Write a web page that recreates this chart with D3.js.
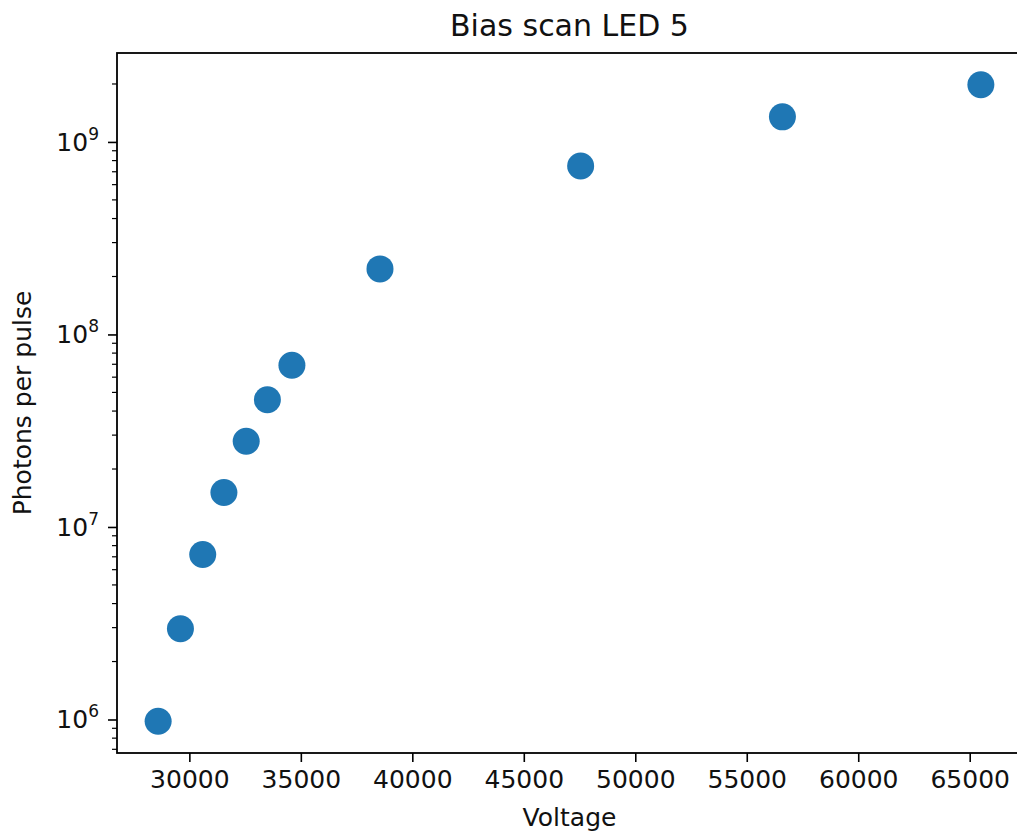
<!DOCTYPE html>
<html>
<head>
<meta charset="utf-8">
<script src="https://cdn.jsdelivr.net/npm/d3@7"></script>
<style>
  body { margin: 0; background: #fff; }
  svg { display: block; font-family: "DejaVu Sans", sans-serif; }
</style>
</head>
<body>
<div id="chart"></div>
<script>
// values
const voltage = [28600, 29600, 30600, 31550, 32550, 33500, 34600, 38550, 47550, 56600, 65500];
const photons = [9.8e5, 2.96e6, 7.2e6, 1.51e7, 2.79e7, 4.58e7, 6.92e7, 2.19e8, 7.5e8, 1.35e9, 1.98e9];
const xTicks = [30000, 35000, 40000, 45000, 50000, 55000, 60000, 65000];
const yTicks = [1e6, 1e7, 1e8, 1e9];
const yTickLabels = ["6", "7", "8", "9"];

const width = 1017, height = 833;
const margin = { left: 117, top: 53, right: 1022, bottom: 753 };

const svg = d3.select('#chart')
    .append('svg')
    .attr('width', width)
    .attr('height', height);

// matplotlib style 5% padding
const xExt = d3.extent(voltage);
const xPad = (xExt[1] - xExt[0]) * 0.05;
const x = d3.scaleLinear()
    .domain([xExt[0] - xPad, xExt[1] + xPad])
    .range([margin.left, margin.right]);

const yExt = d3.extent(photons).map(Math.log10);
const yPad = (yExt[1] - yExt[0]) * 0.05;
const y = d3.scaleLog()
    .domain([Math.pow(10, yExt[0] - yPad), Math.pow(10, yExt[1] + yPad)])
    .range([margin.bottom, margin.top]);

// x axis
const xAxis = svg.append('g')
    .attr('transform', 'translate(0,' + margin.bottom + ')')
    .call(d3.axisBottom(x).tickValues(xTicks).tickFormat(d => String(d)).tickSize(9).tickSizeOuter(0).tickPadding(8));
xAxis.select('.domain').remove();
xAxis.selectAll('line').attr('stroke', '#000').attr('stroke-width', 1.6);
xAxis.selectAll('text')
    .attr('fill', '#111')
    .style('font-size', '25px')
    .style('font-family', '"DejaVu Sans", sans-serif');

// y axis: minor ticks
const minor = y.ticks().filter(d => !yTicks.includes(d));
svg.append('g').attr('class', 'minor')
    .selectAll('line')
    .data(minor)
    .join('line')
    .attr('x1', margin.left - 5)
    .attr('x2', margin.left)
    .attr('y1', d => y(d))
    .attr('y2', d => y(d))
    .attr('stroke', '#000')
    .attr('stroke-width', 1.2);

// y axis: major ticks
const yAxis = svg.append('g')
    .attr('transform', 'translate(' + margin.left + ',0)')
    .call(d3.axisLeft(y).tickValues(yTicks).tickFormat('').tickSize(9).tickSizeOuter(0));
yAxis.select('.domain').remove();
yAxis.selectAll('line').attr('stroke', '#000').attr('stroke-width', 1.6);

const yLab = svg.append('g').selectAll('text')
    .data(yTicks)
    .join('text')
    .attr('x', margin.left - 18)
    .attr('y', d => y(d) + 9)
    .attr('text-anchor', 'end')
    .attr('fill', '#111')
    .style('font-size', '25px');
yLab.append('tspan').text('10');
yLab.append('tspan')
    .attr('dy', -11)
    .style('font-size', '17px')
    .text((d, i) => yTickLabels[i]);

// frame
svg.append('rect')
    .attr('x', margin.left)
    .attr('y', margin.top)
    .attr('width', margin.right - margin.left)
    .attr('height', margin.bottom - margin.top)
    .attr('fill', 'none')
    .attr('stroke', '#000')
    .attr('stroke-width', 1.8);

// points
svg.append('g')
    .selectAll('circle')
    .data(voltage)
    .join('circle')
    .attr('cx', d => x(d))
    .attr('cy', (d, i) => y(photons[i]))
    .attr('r', 13.5)
    .attr('fill', '#1f77b4');

// labels
const mid = (margin.left + margin.right) / 2;
svg.append('text')
    .attr('x', mid)
    .attr('y', 36)
    .attr('text-anchor', 'middle')
    .attr('fill', '#111')
    .style('font-size', '30px')
    .text('Bias scan LED 5');

svg.append('text')
    .attr('x', mid)
    .attr('y', 826)
    .attr('text-anchor', 'middle')
    .attr('fill', '#111')
    .style('font-size', '25px')
    .text('Voltage');

svg.append('text')
    .attr('transform', 'translate(31,' + (margin.top + margin.bottom) / 2 + ') rotate(-90)')
    .attr('text-anchor', 'middle')
    .attr('fill', '#111')
    .style('font-size', '25px')
    .text('Photons per pulse');
</script>
</body>
</html>
